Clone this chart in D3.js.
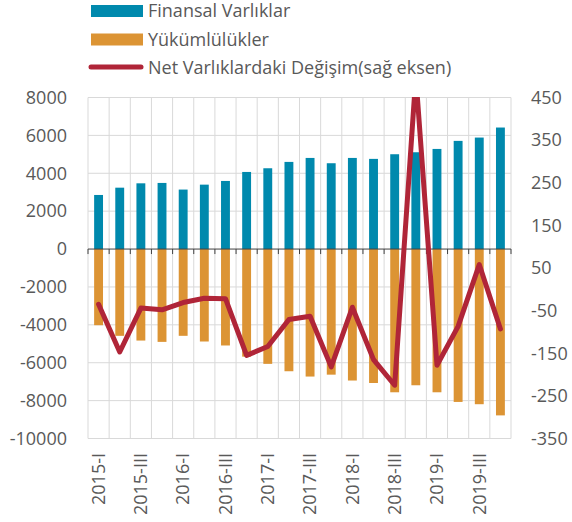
<!DOCTYPE html>
<html>
<head>
<meta charset="utf-8">
<script src="https://cdn.jsdelivr.net/npm/d3@7"></script>
<style>
  body { margin: 0; background: #fff; }
  svg { display: block; font-family: "Open Sans", sans-serif; }
  .lbl { fill: #595959; font-size: 18px; }
</style>
</head>
<body>
<svg id="chart" width="572" height="522"></svg>
<script>
// quarters
var categories = ["2015-I","2015-II","2015-III","2015-IV",
                  "2016-I","2016-II","2016-III","2016-IV",
                  "2017-I","2017-II","2017-III","2017-IV",
                  "2018-I","2018-II","2018-III","2018-IV",
                  "2019-I","2019-II","2019-III","2019-IV"];

var finansalVarliklar = [2855, 3240, 3470, 3490, 3140, 3400, 3595, 4070, 4265, 4600,
                         4810, 4530, 4810, 4760, 5005, 5110, 5285, 5710, 5885, 6415];

var yukumlulukler = [-4020, -4580, -4830, -4900, -4580, -4880, -5090, -5680, -6060, -6450,
                     -6730, -6630, -6940, -7070, -7560, -7190, -7560, -8070, -8190, -8780];

// right axis
var netDegisim = [-35, -147, -44, -48, -31, -21, -22, -155, -134, -71,
                  -63, -182, -42, -165, -225, 500, -178, -87, 58, -93];

var leftTicks = [8000, 6000, 4000, 2000, 0, -2000, -4000, -6000, -8000, -10000];
var rightTicks = [450, 350, 250, 150, 50, -50, -150, -250, -350];

var legendItems = [
  {label: "Finansal Varlıklar", color: "#0089ad", type: "rect"},
  {label: "Yükümlülükler", color: "#dc9434", type: "rect"},
  {label: "Net Varlıklardaki Değişim(sağ eksen)", color: "#b02538", type: "line"}
];

var svg = d3.select("#chart");
var pLeft = 88, pRight = 511, pTop = 97.5, pBottom = 438.5;

var x = d3.scaleBand().domain(categories).range([pLeft, pRight]).padding(0);
var yL = d3.scaleLinear().domain([-10000, 8000]).range([pBottom, pTop]);
var yR = d3.scaleLinear().domain([-350, 450]).range([pBottom, pTop]);

// ==================== Grid ====================
svg.append("g").selectAll("line.h")
  .data(leftTicks.filter(function(d){ return d !== 0; }))
  .enter().append("line")
    .attr("x1", pLeft).attr("x2", pRight)
    .attr("y1", function(d){ return yL(d); })
    .attr("y2", function(d){ return yL(d); })
    .attr("stroke", "#d9d9d9").attr("stroke-width", 1);

var bounds = categories.map(function(c){ return x(c); }).concat([pRight]);
svg.append("g").selectAll("line.v")
  .data(bounds)
  .enter().append("line")
    .attr("x1", function(d){ return d; }).attr("x2", function(d){ return d; })
    .attr("y1", pTop).attr("y2", pBottom)
    .attr("stroke", "#d9d9d9").attr("stroke-width", 1);

// ==================== Bars ====================
var bw = x.bandwidth() * 0.42;
svg.append("g").selectAll("rect.fv")
  .data(finansalVarliklar)
  .enter().append("rect")
    .attr("x", function(d, i){ return x(categories[i]) + (x.bandwidth() - bw) / 2; })
    .attr("y", function(d){ return yL(d); })
    .attr("width", bw)
    .attr("height", function(d){ return yL(0) - yL(d); })
    .attr("fill", legendItems[0].color);

svg.append("g").selectAll("rect.yk")
  .data(yukumlulukler)
  .enter().append("rect")
    .attr("x", function(d, i){ return x(categories[i]) + (x.bandwidth() - bw) / 2; })
    .attr("y", yL(0))
    .attr("width", bw)
    .attr("height", function(d){ return yL(d) - yL(0); })
    .attr("fill", legendItems[1].color);

// zero axis with ticks
svg.append("line")
  .attr("x1", pLeft).attr("x2", pRight)
  .attr("y1", yL(0)).attr("y2", yL(0))
  .attr("stroke", "#404040").attr("stroke-width", 1);
svg.append("g").selectAll("line.t")
  .data(bounds)
  .enter().append("line")
    .attr("x1", function(d){ return d; }).attr("x2", function(d){ return d; })
    .attr("y1", yL(0)).attr("y2", yL(0) + 5)
    .attr("stroke", "#404040").attr("stroke-width", 1);

// ==================== Line ====================
svg.append("clipPath").attr("id", "plotclip")
  .append("rect").attr("x", pLeft - 10).attr("y", pTop - 0.5)
  .attr("width", pRight - pLeft + 20).attr("height", pBottom - pTop + 10);

var line = d3.line()
  .x(function(d, i){ return x(categories[i]) + x.bandwidth() / 2; })
  .y(function(d){ return yR(d); });

svg.append("path")
  .datum(netDegisim)
  .attr("d", line)
  .attr("fill", "none")
  .attr("stroke", legendItems[2].color)
  .attr("stroke-width", 5)
  .attr("stroke-linejoin", "round")
  .attr("stroke-linecap", "round")
  .attr("clip-path", "url(#plotclip)");

// ==================== Axes labels ====================
svg.append("g").selectAll("text")
  .data(leftTicks)
  .enter().append("text")
    .attr("class", "lbl")
    .attr("x", 67)
    .attr("y", function(d){ return yL(d); })
    .attr("dy", "0.35em")
    .attr("text-anchor", "end")
    .text(function(d){ return d; });

svg.append("g").selectAll("text")
  .data(rightTicks)
  .enter().append("text")
    .attr("class", "lbl")
    .attr("x", 531)
    .attr("y", function(d){ return yR(d); })
    .attr("dy", "0.35em")
    .attr("text-anchor", "start")
    .text(function(d){ return d; });

svg.append("g").selectAll("text")
  .data(categories.filter(function(c, i){ return i % 2 === 0; }))
  .enter().append("text")
    .attr("class", "lbl")
    .attr("transform", function(d){
      return "translate(" + (x(d) + x.bandwidth() / 2) + ",453) rotate(-90)";
    })
    .attr("dy", "0.35em")
    .attr("text-anchor", "end")
    .text(function(d){ return d; });

// ==================== Legend ====================
var lg = svg.append("g").selectAll("g")
  .data(legendItems)
  .enter().append("g")
    .attr("transform", function(d, i){ return "translate(0," + (11 + i * 28.5) + ")"; });

lg.filter(function(d){ return d.type === "rect"; })
  .append("rect")
    .attr("x", 91).attr("y", -6).attr("width", 52).attr("height", 12)
    .attr("fill", function(d){ return d.color; });

lg.filter(function(d){ return d.type === "line"; })
  .append("line")
    .attr("x1", 91).attr("x2", 141).attr("y1", -1).attr("y2", -1)
    .attr("stroke", function(d){ return d.color; })
    .attr("stroke-width", 5).attr("stroke-linecap", "round");

lg.append("text")
  .attr("class", "lbl")
  .attr("x", 148)
  .attr("y", 0)
  .attr("dy", "0.35em")
  .text(function(d){ return d.label; });
</script>
</body>
</html>
